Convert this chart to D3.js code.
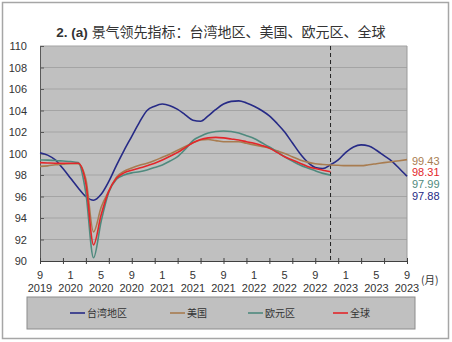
<!DOCTYPE html>
<html>
<head>
<meta charset="utf-8">
<script src="https://cdn.jsdelivr.net/npm/d3@7"></script>
<style>
html,body{margin:0;padding:0;background:#fff;}
svg{display:block;}
</style>
</head>
<body>
<svg id="chart" width="452" height="342"></svg>
<script>
// ---- data (monthly, Sep 2019 .. Sep 2023) ----
const seriesNames = ["台湾地区", "美国", "欧元区", "全球"];
const seriesColors = ["#262a86", "#a87c50", "#4f8a7e", "#e3262a"];
const taiwan = [100.07,99.85,99.4,98.6,97.7,96.8,96.0,95.65,96.2,97.4,98.9,100.3,101.6,102.9,104.0,104.4,104.6,104.45,104.1,103.6,103.1,103.0,103.5,104.1,104.6,104.85,104.9,104.7,104.4,104.0,103.5,102.8,102.0,101.0,100.0,99.2,98.7,98.6,98.95,99.4,100.1,100.6,100.8,100.7,100.3,99.8,99.3,98.6,97.88];
const usa = [98.8,98.85,98.95,99.0,99.05,99.05,97.6,92.7,95.0,96.5,97.8,98.35,98.65,98.9,99.1,99.35,99.65,99.95,100.3,100.65,101.0,101.25,101.3,101.2,101.1,101.1,101.1,100.95,100.8,100.65,100.5,100.25,100.0,99.7,99.4,99.2,99.05,98.98,98.93,98.9,98.87,98.87,98.87,98.95,99.05,99.15,99.24,99.33,99.43];
const euro = [99.4,99.38,99.35,99.3,99.25,99.15,96.3,90.3,93.7,96.4,97.6,98.0,98.2,98.3,98.47,98.7,98.93,99.3,99.7,100.4,101.2,101.6,101.9,102.05,102.1,102.05,101.9,101.65,101.4,101.0,100.6,100.15,99.7,99.3,98.93,98.65,98.4,98.15,97.99];
const world = [99.15,99.12,99.1,99.1,99.1,99.1,97.2,91.5,94.3,96.5,97.7,98.2,98.45,98.65,98.87,99.1,99.4,99.75,100.1,100.55,101.0,101.3,101.45,101.5,101.45,101.35,101.25,101.1,100.95,100.75,100.5,100.1,99.7,99.4,99.1,98.8,98.6,98.45,98.31];
const endLabels = ["99.43", "98.31", "97.99", "97.88"];
const endLabelColors = ["#a87c50", "#e3262a", "#4f8a7e", "#262a86"];
const monthLabels = ["9","1","5","9","1","5","9","1","5","9","1","5","9"];
const yearLabels = ["2019","2020","2020","2020","2021","2021","2021","2022","2022","2022","2023","2023","2023"];
const yTicks = [90,92,94,96,98,100,102,104,106,108,110];
const forecastStart = 38;
const titlePrefix = "2. (a) ";
const titleText = "景气领先指标：台湾地区、美国、欧元区、全球";

const svg = d3.select("#chart");
const W = 452, H = 342;
const L = 40, R = 407, T = 46, B = 261;

// outer frame
svg.append("rect").attr("x",2.5).attr("y",2.5).attr("width",W-6).attr("height",H-6)
  .attr("fill","#fff").attr("stroke","#a6a6a6").attr("stroke-width",1.5);

// title
const tt = svg.append("text").attr("x",221).attr("y",37).attr("text-anchor","middle")
  .attr("font-size",14).attr("fill","#333");
tt.append("tspan").attr("font-family","'Liberation Sans', Arial, sans-serif").attr("font-weight","bold").attr("font-size",13.5).text(titlePrefix);
tt.append("tspan").attr("font-family","'Noto Sans CJK SC', sans-serif").text(titleText);

const x = d3.scaleLinear().domain([0,48]).range([L,R]);
const y = d3.scaleLinear().domain([90,110]).range([B,T]);

// plot area
svg.append("rect").attr("x",L).attr("y",T).attr("width",R-L).attr("height",B-T).attr("fill","#c0c0c0");

// gridlines
svg.append("g").selectAll("line").data(yTicks.slice(1)).join("line")
  .attr("x1",L).attr("x2",R).attr("y1",d=>y(d)).attr("y2",d=>y(d))
  .attr("stroke","#a4a4a4").attr("stroke-width",1.2);

// right border
svg.append("line").attr("x1",R).attr("x2",R).attr("y1",T).attr("y2",B).attr("stroke","#9a9a9a").attr("stroke-width",1);

// y axis
const yAxis = svg.append("g").attr("transform",`translate(${L},0)`)
  .call(d3.axisLeft(y).tickValues(yTicks).tickSize(-4).tickPadding(13).tickFormat(d3.format("d")));
yAxis.select(".domain").attr("stroke","#595959");
yAxis.selectAll(".tick line").attr("stroke","#595959");
yAxis.selectAll("text").attr("font-family","'Liberation Sans', Arial, sans-serif").attr("font-size",11).attr("fill","#333");

// x axis (ticks every 3 months)
const xAxis = svg.append("g").attr("transform",`translate(0,${B})`)
  .call(d3.axisBottom(x).tickValues(d3.range(0,49,3)).tickSize(3).tickFormat(""));
xAxis.select(".domain").attr("stroke","#404040");
xAxis.selectAll(".tick line").attr("stroke","#404040").attr("y1",-3).attr("y2",3);

// x labels every 4 months
const labIdx = monthLabels.map((_,i)=>i*4);
svg.append("g").selectAll("text").data(labIdx).join("text")
  .attr("x",d=>x(d)).attr("y",279).attr("text-anchor","middle")
  .attr("font-family","'Liberation Sans', Arial, sans-serif").attr("font-size",11).attr("fill","#333")
  .text((d,i)=>monthLabels[i]);
svg.append("g").selectAll("text").data(labIdx).join("text")
  .attr("x",d=>x(d)).attr("y",292).attr("text-anchor","middle")
  .attr("font-family","'Liberation Sans', Arial, sans-serif").attr("font-size",11).attr("fill","#333")
  .text((d,i)=>yearLabels[i]);
svg.append("text").attr("x",421).attr("y",284)
  .attr("font-family","'Noto Sans CJK SC', sans-serif").attr("font-size",10.5).attr("fill","#333").text("(月)");

// forecast divider
svg.append("line").attr("x1",x(forecastStart)).attr("x2",x(forecastStart)).attr("y1",T).attr("y2",B)
  .attr("stroke","#222").attr("stroke-width",1).attr("stroke-dasharray","4,3");

// lines
const line = d3.line().x((d,i)=>x(i)).y(d=>y(d)).curve(d3.curveMonotoneX);
const all = [taiwan, usa, euro, world];
all.forEach((s,k)=>{
  svg.append("path").datum(s).attr("d",line).attr("fill","none")
    .attr("stroke",seriesColors[k]).attr("stroke-width",1.6).attr("stroke-linejoin","round");
});

// end labels
svg.append("g").selectAll("text").data(endLabels).join("text")
  .attr("x",412).attr("y",(d,i)=>164.5+i*11.8)
  .attr("font-family","'Liberation Sans', Arial, sans-serif").attr("font-size",11)
  .attr("fill",(d,i)=>endLabelColors[i]).text(d=>d);

// legend
svg.append("rect").attr("x",27).attr("y",297).attr("width",388).attr("height",32)
  .attr("fill","#c0c0c0").attr("stroke","#8c8c8c").attr("stroke-width",1);
const legX = [70,170,248,333];
const lg = svg.append("g").selectAll("g").data(seriesNames).join("g")
  .attr("transform",(d,i)=>`translate(${legX[i]},313)`);
lg.append("line").attr("x1",0).attr("x2",15).attr("y1",0).attr("y2",0)
  .attr("stroke",(d,i)=>seriesColors[i]).attr("stroke-width",1.6);
lg.append("text").attr("x",17).attr("y",3.5)
  .attr("font-family","'Noto Sans CJK SC', sans-serif").attr("font-size",10).attr("fill","#333")
  .text(d=>d);
</script>
</body>
</html>
